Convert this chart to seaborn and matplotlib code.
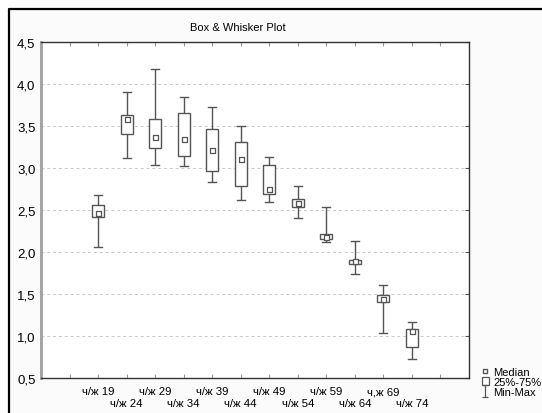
import numpy as np
import pandas as pd
import seaborn as sns
import matplotlib.pyplot as plt
from matplotlib.lines import Line2D
from matplotlib.patches import Patch, Rectangle
from matplotlib.path import Path
from matplotlib.ticker import FuncFormatter

# values
categories = ['ч/ж 19', 'ч/ж 24', 'ч/ж 29', 'ч/ж 34', 'ч/ж 39', 'ч/ж 44',
              'ч/ж 49', 'ч/ж 54', 'ч/ж 59', 'ч/ж 64', 'ч,ж 69', 'ч/ж 74']
mins = [2.06, 3.12, 3.03, 3.02, 2.83, 2.62, 2.60, 2.40, 2.12, 1.74, 1.04, 0.73]
q1s = [2.42, 3.41, 3.24, 3.14, 2.97, 2.79, 2.69, 2.53, 2.15, 1.86, 1.41, 0.87]
medians = [2.46, 3.58, 3.37, 3.35, 3.21, 3.11, 2.75, 2.58, 2.18, 1.89, 1.44, 1.06]
q3s = [2.56, 3.63, 3.58, 3.65, 3.46, 3.31, 3.04, 2.63, 2.21, 1.91, 1.49, 1.08]
maxs = [2.68, 3.91, 4.18, 3.85, 3.73, 3.50, 3.13, 2.78, 2.53, 2.13, 1.61, 1.17]
y_ticks = [0.5, 1.0, 1.5, 2.0, 2.5, 3.0, 3.5, 4.0, 4.5]

# five points per group: their quartiles are exactly q1/median/q3
rows = []
for c, a, b, m, d, e in zip(categories, mins, q1s, medians, q3s, maxs):
    for v in (a, b, m, d, e):
        rows.append({'group': c, 'value': v})
df = pd.DataFrame(rows)

plt.rcParams['font.family'] = ['Liberation Sans', 'DejaVu Sans']
line_col = '#555555'

fig = plt.figure(figsize=(5.42, 4.14), dpi=100)
fig.patch.set_facecolor('white')
# window frame: light background plus black top and left edges
fx, fy = 9 / 542, 1 - 10 / 414
fig.add_artist(Rectangle((fx, -0.05), 1.1, fy + 0.05, transform=fig.transFigure,
                         facecolor='#fbfbfb', edgecolor='none', zorder=-10))
fig.add_artist(Line2D([fx, fx, 1.05], [-0.05, fy, fy], transform=fig.transFigure,
                      color='black', linewidth=1.6, zorder=-9))

ax = fig.add_axes([41 / 542, 1 - 379 / 414, 428 / 542, 336 / 414])
ax.set_facecolor('white')

sns.boxplot(data=df, x='group', y='value', order=categories, whis=(0, 100),
            width=0.42, color='white', linecolor=line_col, linewidth=1,
            showfliers=False, medianprops={'visible': False},
            capwidths=0.28, ax=ax)
sns.stripplot(x=categories, y=medians, order=categories, jitter=False,
              marker='s', size=3.6, color='white', edgecolor=line_col,
              linewidth=0.9, ax=ax, zorder=4)

ax.set_xlim(-2, 13)
ax.set_ylim(0.5, 4.5)
ax.set_xticks(range(-1, 13))
ax.set_xticklabels([''] + categories + [''], fontsize=8.2)
ax.set_yticks(y_ticks)
ax.yaxis.set_major_formatter(FuncFormatter(lambda v, p: f'{v:.1f}'.replace('.', ',')))
ax.tick_params(axis='y', labelsize=9.5, left=False, right=True, direction='in',
               length=3, color=line_col, pad=4)
ax.tick_params(axis='x', top=True, bottom=True, direction='in', length=3,
               color='#999999', pad=6)
# staggered labels: every second category sits one row lower
for i, tick in enumerate(ax.xaxis.get_major_ticks()[1:-1]):
    if i % 2 == 1:
        tick.set_pad(14.5)
ax.set_xlabel('')
ax.set_ylabel('')
ax.grid(axis='y', linestyle=(0, (3, 3)), color='#c8c8c8', linewidth=0.7)
ax.set_axisbelow(True)

for side in ('top', 'bottom', 'right'):
    ax.spines[side].set_color('#333333')
    ax.spines[side].set_linewidth(1)
ax.spines['left'].set_color('#a0a0a0')
ax.spines['left'].set_linewidth(2)

fig.text(237.5 / 542, 1 - 28 / 414, 'Box & Whisker Plot', ha='center',
         va='center', fontsize=8)

# legend
ibeam = Path([(-0.5, 1), (0.5, 1), (0, 1), (0, -1), (-0.5, -1), (0.5, -1)],
             [Path.MOVETO, Path.LINETO, Path.MOVETO, Path.LINETO,
              Path.MOVETO, Path.LINETO])
handles = [
    Line2D([], [], marker='s', linestyle='none', markersize=3.2,
           markerfacecolor='white', markeredgecolor=line_col),
    Patch(facecolor='white', edgecolor=line_col, linewidth=0.9),
    Line2D([], [], marker=ibeam, linestyle='none', markersize=8,
           markeredgecolor=line_col, markerfacecolor='none', markeredgewidth=0.9),
]
fig.legend(handles, ['Median', '25%-75%', 'Min-Max'], loc='upper left',
           bbox_to_anchor=(476 / 542, 1 - 362 / 414), frameon=False,
           fontsize=8, handlelength=0.7, handleheight=0.8,
           handletextpad=0.35, labelspacing=0.0, borderpad=0)

fig.savefig('out.png', dpi=100)
